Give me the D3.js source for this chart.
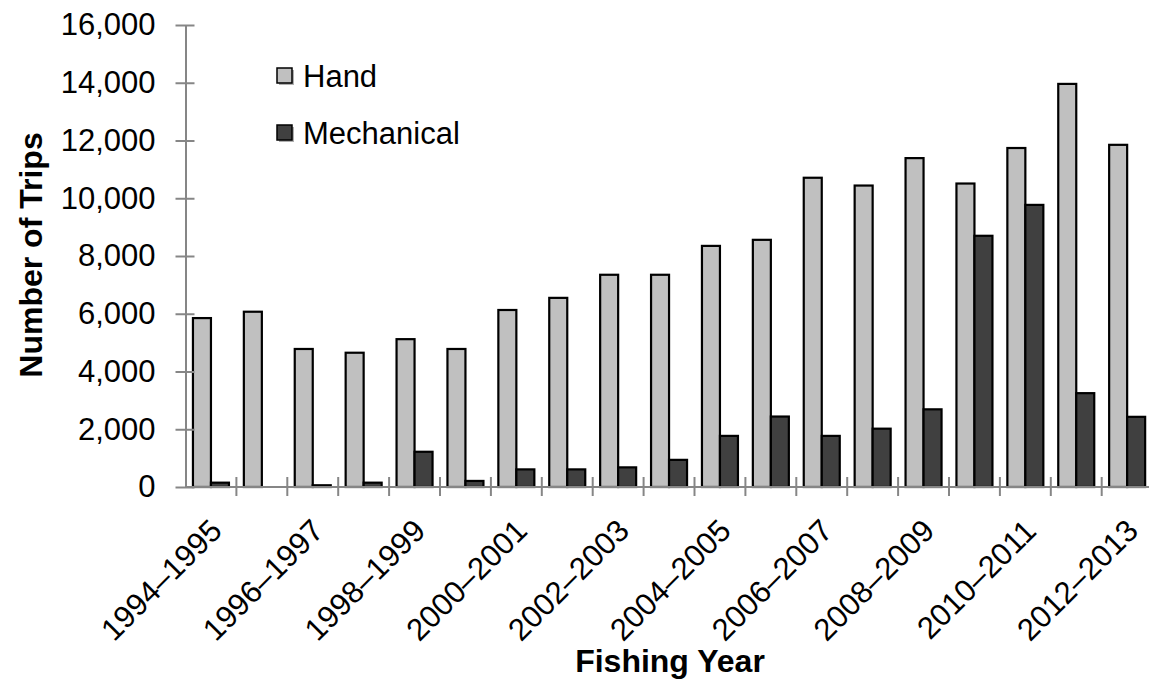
<!DOCTYPE html>
<html>
<head>
<meta charset="utf-8">
<script src="https://cdn.jsdelivr.net/npm/d3@7"></script>
<style>
  body { margin: 0; background: #fff; }
  text { font-family: "Liberation Sans", Arial, sans-serif; fill: #000; }
</style>
</head>
<body>
<div id="chart"></div>
<script>
// fishing years, one per category
const years = ["1994–1995", "1995–1996", "1996–1997", "1997–1998", "1998–1999",
  "1999–2000", "2000–2001", "2001–2002", "2002–2003", "2003–2004", "2004–2005",
  "2005–2006", "2006–2007", "2007–2008", "2008–2009", "2009–2010", "2010–2011",
  "2011–2012", "2012–2013"];
const series = ["Hand", "Mechanical"];
// number of trips
const hand = [5850, 6070, 4780, 4650, 5120, 4780, 6130, 6550, 7350, 7350, 8350,
  8560, 10710, 10440, 11390, 10510, 11740, 13960, 11850];
const mech = [150, 0, 60, 150, 1220, 210, 610, 610, 680, 940, 1770, 2440, 1770,
  2020, 2690, 8700, 9770, 3250, 2430];
const yTicks = [0, 2000, 4000, 6000, 8000, 10000, 12000, 14000, 16000];

const colors = { "Hand": "#c0c0c0", "Mechanical": "#404040" };
const axisColor = "#868686";

const W = 1149, H = 689;
const plotLeft = 185.5, plotTop = 25, plotBottom = 487;
const step = 50.9;

const svg = d3.select("#chart").append("svg")
  .attr("width", W).attr("height", H);

const x0 = d3.scaleBand()
  .domain(years)
  .range([plotLeft, plotLeft + step * years.length]);

const x1 = d3.scaleBand()
  .domain(series)
  .range([0, x0.bandwidth()])
  .paddingInner(0)
  .paddingOuter(0.414);

const y = d3.scaleLinear()
  .domain([0, 16000])
  .range([plotBottom, plotTop]);

const data = years.map((yr, i) => ({ year: yr, values: [
  { key: "Hand", val: hand[i] },
  { key: "Mechanical", val: mech[i] }
]}));

// bars
const groups = svg.append("g").selectAll("g")
  .data(data)
  .enter()
  .append("g")
  .attr("transform", d => `translate(${x0(d.year)},0)`);

groups.selectAll("rect")
  .data(d => d.values.filter(v => v.val > 0))
  .enter()
  .append("rect")
  .attr("x", d => x1(d.key))
  .attr("y", d => y(d.val))
  .attr("width", x1.bandwidth())
  .attr("height", d => plotBottom - y(d.val))
  .attr("fill", d => colors[d.key])
  .attr("stroke", "#000")
  .attr("stroke-width", 2.2);

// y axis
const yAxis = svg.append("g")
  .attr("transform", `translate(${plotLeft},0)`)
  .call(d3.axisLeft(y).tickValues(yTicks).tickSize(0).tickFormat(d3.format(",")));
yAxis.select(".domain").attr("stroke", axisColor).attr("stroke-width", 2);
yAxis.selectAll(".tick text")
  .attr("x", -30)
  .style("font-size", "31px")
  .style("font-family", "'Liberation Sans', Arial, sans-serif")
  .attr("fill", "#000");
yAxis.selectAll(".tick").append("line")
  .attr("x1", -10).attr("x2", 9)
  .attr("stroke", axisColor).attr("stroke-width", 2);

// x axis: ticks sit on category boundaries
const xg = svg.append("g");
xg.append("line")
  .attr("x1", plotLeft).attr("x2", x0.range()[1])
  .attr("y1", plotBottom).attr("y2", plotBottom)
  .attr("stroke", axisColor).attr("stroke-width", 2);
xg.selectAll(".xt")
  .data(years)
  .enter()
  .append("line")
  .attr("class", "xt")
  .attr("x1", d => x0(d) + x0.bandwidth())
  .attr("x2", d => x0(d) + x0.bandwidth())
  .attr("y1", plotBottom - 10).attr("y2", plotBottom + 9)
  .attr("stroke", axisColor).attr("stroke-width", 2);

xg.selectAll(".xl")
  .data(years.filter((d, i) => i % 2 === 0))
  .enter()
  .append("text")
  .attr("class", "xl")
  .attr("transform", d => `translate(${x0(d) + x0.bandwidth() / 2 + 5},${plotBottom + 38}) rotate(-45)`)
  .attr("text-anchor", "end")
  .attr("dy", "0.35em")
  .style("font-size", "31px")
  .text(d => d);

// axis titles
svg.append("text")
  .attr("x", 670).attr("y", 672)
  .attr("text-anchor", "middle")
  .style("font-size", "32px")
  .style("font-weight", "bold")
  .text("Fishing Year");

svg.append("text")
  .attr("transform", "translate(42,255) rotate(-90)")
  .attr("text-anchor", "middle")
  .style("font-size", "32px")
  .style("font-weight", "bold")
  .text("Number of Trips");

// legend
const legend = svg.append("g").selectAll("g")
  .data(series)
  .enter()
  .append("g")
  .attr("transform", (d, i) => `translate(277,${68 + i * 57})`);
legend.append("rect")
  .attr("x", 2).attr("y", 2).attr("width", 15).attr("height", 15)
  .attr("fill", "#b0b0b0");
legend.append("rect")
  .attr("width", 15).attr("height", 15)
  .attr("fill", d => colors[d])
  .attr("stroke", "#000").attr("stroke-width", 1.5);
legend.append("text")
  .attr("x", 26).attr("y", 19)
  .style("font-size", "31px")
  .text(d => d);
</script>
</body>
</html>
